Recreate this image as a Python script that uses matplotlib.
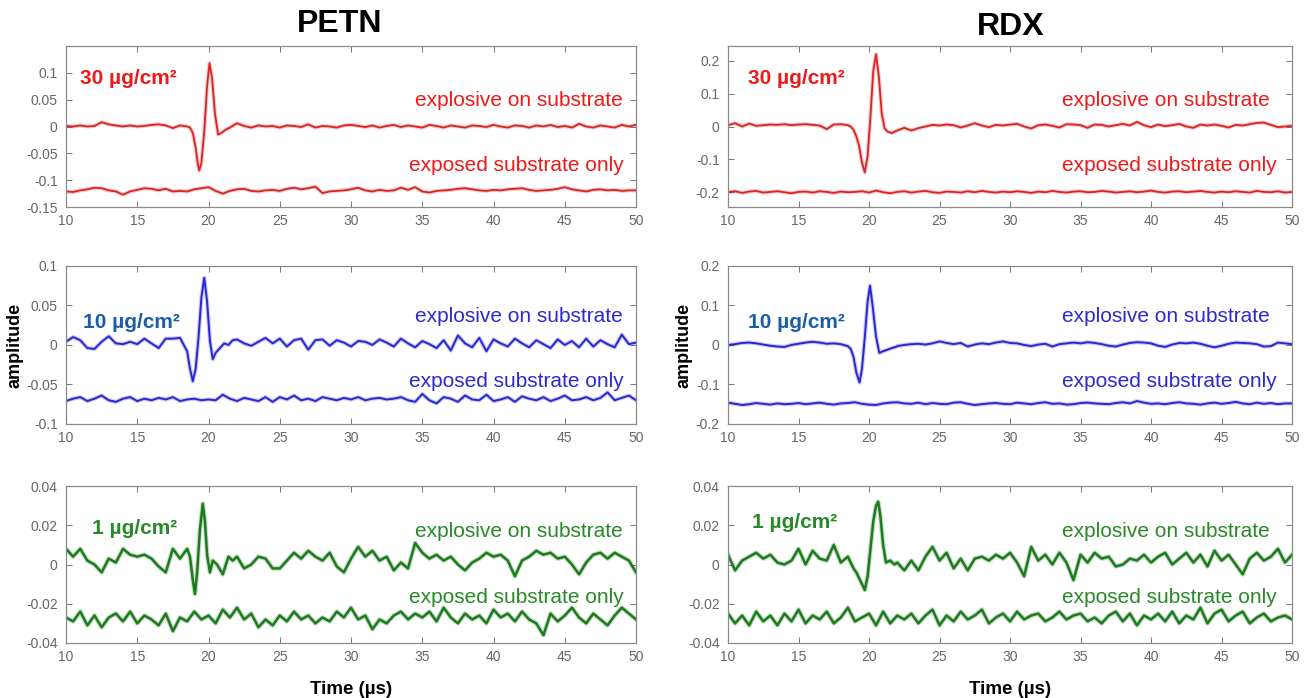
import numpy as np
import matplotlib.pyplot as plt

plt.rcParams['font.family'] = ['Liberation Sans', 'DejaVu Sans']

# Sample times (us). Substrate traces use the full grid; explosive traces
# use the grid before/after the pulse plus hand-read pulse points.
T = np.arange(10, 50.01, 0.5)
T_PRE = T[T <= 18.5]
T_POST = T[T >= 22]

# ---- PETN, 30 ug/cm2 ----
PETN30_PRE = [0.001, 0.000, 0.002, 0.000, 0.001, 0.008, 0.004, 0.002, 0.000,
              0.002, 0.000, 0.001, 0.003, 0.004, 0.002, -0.003, 0.002, 0.000]
PETN30_PULSE_T = [18.7, 18.9, 19.1, 19.25, 19.35, 19.5, 19.7, 19.9, 20.07,
                  20.25, 20.45, 20.67, 20.9, 21.2, 21.5, 21.8]
PETN30_PULSE_Y = [-0.002, -0.012, -0.040, -0.070, -0.082, -0.068, -0.010, 0.075,
                  0.118, 0.090, 0.025, -0.015, -0.012, -0.006, -0.002, 0.003]
PETN30_POST = [0.006, 0.001, -0.002, 0.002, 0.000, 0.001, -0.002, 0.002, 0.001, -0.001,
               0.004, -0.002, 0.001, 0.000, -0.002, 0.002, 0.003, 0.001, -0.001, 0.002,
               -0.002, 0.001, 0.003, -0.001, 0.002, 0.000, -0.002, 0.003, 0.001, -0.002,
               0.002, 0.000, -0.002, 0.002, 0.001, -0.001, 0.003, 0.000, -0.002, 0.002,
               0.001, -0.002, 0.002, 0.000, 0.003, -0.001, 0.001, -0.002, 0.005, 0.000,
               -0.002, 0.002, 0.000, -0.002, 0.003, 0.000, 0.003]
PETN30_SUB = [-0.121, -0.122, -0.119, -0.117, -0.114, -0.115, -0.119, -0.121, -0.127, -0.121,
              -0.118, -0.115, -0.116, -0.119, -0.116, -0.121, -0.120, -0.121, -0.117, -0.115,
              -0.113, -0.120, -0.125, -0.120, -0.117, -0.116, -0.120, -0.121, -0.119, -0.118,
              -0.120, -0.116, -0.114, -0.117, -0.115, -0.112, -0.124, -0.121, -0.120, -0.119,
              -0.117, -0.114, -0.119, -0.121, -0.118, -0.120, -0.119, -0.114, -0.118, -0.113,
              -0.121, -0.123, -0.120, -0.119, -0.118, -0.116, -0.115, -0.117, -0.119, -0.120,
              -0.118, -0.119, -0.117, -0.116, -0.115, -0.118, -0.120, -0.119, -0.118, -0.116,
              -0.113, -0.117, -0.119, -0.121, -0.118, -0.117, -0.119, -0.118, -0.120, -0.119,
              -0.119]

# ---- RDX, 30 ug/cm2 ----
RDX30_PRE = [0.004, 0.010, 0.000, 0.009, 0.002, 0.004, 0.006, 0.005, 0.007,
             0.004, 0.006, 0.007, 0.005, 0.003, -0.008, 0.006, 0.007, 0.004]
RDX30_PULSE_T = [18.7, 18.9, 19.1, 19.3, 19.5, 19.7, 19.9, 20.1, 20.3, 20.5,
                 20.7, 20.9, 21.1, 21.3, 21.6, 21.8]
RDX30_PULSE_Y = [0.000, -0.010, -0.030, -0.060, -0.110, -0.140, -0.090, 0.030,
                 0.170, 0.220, 0.150, 0.040, -0.005, -0.015, -0.020, -0.016]
RDX30_POST = [-0.012, -0.004, -0.012, -0.005, 0.000, 0.005, 0.003, 0.006, 0.004, -0.003,
              0.003, 0.010, 0.003, -0.002, 0.005, 0.003, 0.006, 0.008, 0.000, -0.006,
              0.004, 0.006, 0.002, -0.003, 0.007, 0.006, 0.004, -0.004, 0.006, 0.005,
              0.000, 0.004, 0.008, 0.003, 0.014, 0.004, -0.002, 0.006, 0.001, 0.004,
              0.008, 0.000, -0.004, 0.006, 0.003, 0.006, 0.002, -0.003, 0.005, 0.003,
              0.007, 0.011, 0.012, 0.005, -0.002, 0.000, 0.002]
RDX30_SUB = [-0.200, -0.197, -0.202, -0.198, -0.196, -0.201, -0.199, -0.197, -0.200, -0.203,
             -0.199, -0.198, -0.201, -0.197, -0.199, -0.202, -0.198, -0.200, -0.199, -0.197,
             -0.201, -0.195, -0.200, -0.203, -0.199, -0.197, -0.201, -0.198, -0.196, -0.200,
             -0.202, -0.198, -0.199, -0.201, -0.197, -0.200, -0.196, -0.199, -0.201, -0.198,
             -0.200, -0.197, -0.199, -0.202, -0.198, -0.200, -0.196, -0.199, -0.201, -0.198,
             -0.197, -0.200, -0.199, -0.196, -0.198, -0.201, -0.199, -0.197, -0.200, -0.198,
             -0.195, -0.199, -0.201, -0.198, -0.197, -0.200, -0.198, -0.196, -0.199, -0.201,
             -0.198, -0.200, -0.197, -0.199, -0.201, -0.196, -0.199, -0.200, -0.197, -0.201,
             -0.199]

# ---- PETN, 10 ug/cm2 ----
PETN10_PRE = [0.004, 0.010, 0.006, -0.004, -0.005, 0.004, 0.011, 0.002, 0.001,
              0.004, 0.001, 0.008, 0.002, -0.004, 0.008, 0.008, 0.009, -0.008]
PETN10_PULSE_T = [18.7, 18.9, 19.1, 19.3, 19.5, 19.7, 19.9, 20.1, 20.3, 20.5,
                  20.8, 21.1, 21.4, 21.7]
PETN10_PULSE_Y = [-0.030, -0.046, -0.030, 0.010, 0.060, 0.085, 0.055, 0.005,
                  -0.018, -0.010, -0.004, 0.002, 0.000, 0.006]
PETN10_POST = [0.007, 0.002, -0.001, 0.004, 0.009, 0.002, 0.008, -0.002, 0.006, 0.008,
               -0.006, 0.006, 0.007, -0.001, 0.006, 0.003, -0.002, 0.005, 0.004, 0.000,
               0.007, 0.003, -0.002, 0.008, 0.002, -0.003, 0.005, 0.001, -0.004, 0.006,
               -0.007, 0.012, 0.002, -0.003, 0.009, -0.008, 0.007, 0.002, -0.002, 0.008,
               0.002, -0.003, 0.006, 0.001, -0.004, 0.007, 0.000, 0.005, -0.003, 0.008,
               -0.002, 0.006, 0.001, -0.003, 0.013, 0.001, 0.003]
PETN10_SUB = [-0.071, -0.068, -0.066, -0.071, -0.068, -0.064, -0.070, -0.072, -0.068, -0.066,
              -0.071, -0.068, -0.070, -0.067, -0.069, -0.066, -0.071, -0.069, -0.068, -0.070,
              -0.069, -0.070, -0.063, -0.068, -0.071, -0.067, -0.069, -0.071, -0.066, -0.072,
              -0.066, -0.069, -0.064, -0.070, -0.068, -0.071, -0.066, -0.068, -0.070, -0.067,
              -0.069, -0.066, -0.070, -0.068, -0.067, -0.069, -0.068, -0.066, -0.070, -0.072,
              -0.062, -0.070, -0.074, -0.066, -0.068, -0.072, -0.064, -0.069, -0.070, -0.063,
              -0.071, -0.069, -0.066, -0.072, -0.065, -0.068, -0.070, -0.066, -0.071, -0.068,
              -0.064, -0.070, -0.069, -0.066, -0.070, -0.067, -0.060, -0.070, -0.067, -0.064,
              -0.070]

# ---- RDX, 10 ug/cm2 ----
RDX10_PRE = [0.000, 0.002, 0.005, 0.006, 0.004, 0.001, -0.002, -0.004, -0.005,
             0.000, 0.003, 0.006, 0.008, 0.006, 0.003, 0.004, 0.002, -0.003]
RDX10_PULSE_T = [18.7, 18.9, 19.1, 19.33, 19.5, 19.7, 19.9, 20.07, 20.25, 20.5,
                 20.73, 21.0, 21.3, 21.6, 21.9]
RDX10_PULSE_Y = [-0.010, -0.030, -0.070, -0.095, -0.060, 0.020, 0.110, 0.150,
                 0.100, 0.020, -0.020, -0.016, -0.012, -0.008, -0.005]
RDX10_POST = [-0.003, 0.000, 0.002, 0.003, 0.001, 0.004, 0.009, 0.005, 0.002, 0.005,
              -0.004, 0.001, 0.004, 0.002, 0.006, 0.009, 0.005, 0.004, 0.000, -0.003,
              0.001, 0.003, -0.004, 0.002, 0.004, 0.006, 0.004, 0.007, 0.005, 0.002,
              -0.002, -0.004, 0.001, 0.005, 0.007, 0.006, 0.004, -0.002, -0.005, 0.001,
              0.005, 0.004, 0.006, 0.003, -0.002, -0.006, -0.002, 0.003, 0.006, 0.005,
              0.004, 0.002, -0.004, -0.003, 0.006, 0.004, 0.002]
RDX10_SUB = [-0.146, -0.149, -0.152, -0.150, -0.147, -0.149, -0.151, -0.148, -0.150, -0.149,
             -0.147, -0.150, -0.148, -0.146, -0.149, -0.151, -0.148, -0.147, -0.145, -0.149,
             -0.151, -0.152, -0.148, -0.146, -0.145, -0.148, -0.149, -0.146, -0.150, -0.147,
             -0.149, -0.150, -0.146, -0.145, -0.149, -0.152, -0.150, -0.148, -0.147, -0.149,
             -0.150, -0.146, -0.148, -0.150, -0.147, -0.145, -0.149, -0.148, -0.151, -0.150,
             -0.147, -0.146, -0.148, -0.149, -0.150, -0.147, -0.145, -0.148, -0.142, -0.146,
             -0.149, -0.148, -0.150, -0.147, -0.145, -0.148, -0.149, -0.151, -0.148, -0.146,
             -0.149, -0.147, -0.144, -0.148, -0.150, -0.146, -0.149, -0.147, -0.150, -0.148,
             -0.148]

# ---- PETN, 1 ug/cm2 ----
PETN1_PRE = [0.008, 0.004, 0.008, 0.002, 0.000, -0.004, 0.003, 0.001, 0.008,
             0.005, 0.004, 0.005, 0.003, -0.001, -0.004, 0.008, 0.003, 0.008]
PETN1_PULSE_T = [18.7, 18.9, 19.05, 19.2, 19.4, 19.6, 19.75, 19.9, 20.1, 20.3,
                 20.6, 21.0, 21.4, 21.7]
PETN1_PULSE_Y = [0.004, -0.008, -0.015, -0.004, 0.018, 0.031, 0.022, 0.005,
                 -0.004, 0.002, 0.000, -0.005, 0.004, 0.002]
PETN1_POST = [0.004, -0.002, 0.000, 0.004, 0.003, -0.002, -0.002, 0.002, 0.006, 0.003,
              0.007, 0.004, 0.002, 0.006, -0.001, -0.004, 0.003, 0.009, 0.004, 0.007,
              0.002, 0.004, -0.003, 0.001, -0.002, 0.011, 0.006, 0.003, 0.005, 0.002,
              0.004, 0.000, -0.003, 0.001, 0.003, 0.006, 0.004, 0.005, 0.002, -0.006,
              0.002, 0.004, 0.007, 0.005, 0.006, 0.003, 0.004, 0.000, -0.005, 0.001,
              0.005, 0.006, 0.003, 0.006, 0.004, 0.002, -0.004]
PETN1_SUB = [-0.027, -0.029, -0.024, -0.031, -0.026, -0.032, -0.027, -0.025, -0.029, -0.024,
             -0.030, -0.026, -0.028, -0.031, -0.025, -0.034, -0.027, -0.029, -0.024, -0.028,
             -0.026, -0.030, -0.023, -0.027, -0.022, -0.028, -0.025, -0.032, -0.028, -0.031,
             -0.026, -0.029, -0.024, -0.028, -0.026, -0.030, -0.027, -0.029, -0.024, -0.027,
             -0.022, -0.028, -0.026, -0.033, -0.028, -0.030, -0.026, -0.024, -0.028, -0.025,
             -0.027, -0.024, -0.029, -0.022, -0.027, -0.030, -0.025, -0.028, -0.026, -0.030,
             -0.023, -0.027, -0.025, -0.029, -0.024, -0.028, -0.030, -0.036, -0.025, -0.029,
             -0.026, -0.022, -0.027, -0.030, -0.025, -0.028, -0.031, -0.026, -0.022, -0.025,
             -0.028]

# ---- RDX, 1 ug/cm2 ----
RDX1_PRE = [0.005, -0.003, 0.002, 0.004, 0.006, 0.003, 0.005, 0.001, 0.000,
            0.002, 0.008, 0.000, 0.007, 0.003, 0.002, 0.010, 0.001, 0.004]
RDX1_PULSE_T = [18.7, 18.9, 19.1, 19.3, 19.5, 19.7, 19.9, 20.1, 20.3, 20.5,
                20.65, 20.8, 21.0, 21.2, 21.5, 21.8]
RDX1_PULSE_Y = [0.001, -0.002, -0.004, -0.007, -0.010, -0.013, -0.006, 0.008,
                0.022, 0.030, 0.032, 0.025, 0.010, 0.001, 0.002, 0.000]
RDX1_POST = [0.001, -0.003, 0.002, -0.003, 0.004, 0.009, 0.002, 0.006, -0.002, 0.003,
             -0.003, 0.003, 0.004, 0.002, 0.005, 0.003, 0.006, 0.001, -0.006, 0.009,
             0.002, 0.005, 0.000, 0.006, 0.001, -0.008, 0.005, 0.001, 0.006, 0.003,
             0.004, -0.001, 0.000, 0.003, 0.002, 0.005, 0.001, 0.004, 0.006, 0.000,
             0.003, 0.006, 0.001, 0.005, -0.001, 0.007, 0.002, 0.005, 0.000, -0.005,
             0.003, 0.006, 0.002, 0.004, 0.008, 0.001, 0.005]
RDX1_SUB = [-0.025, -0.030, -0.026, -0.031, -0.024, -0.029, -0.026, -0.031, -0.025, -0.029,
            -0.023, -0.030, -0.026, -0.028, -0.024, -0.030, -0.027, -0.022, -0.029, -0.027,
            -0.025, -0.031, -0.024, -0.030, -0.026, -0.028, -0.025, -0.030, -0.026, -0.023,
            -0.031, -0.026, -0.029, -0.024, -0.028, -0.026, -0.023, -0.030, -0.027, -0.025,
            -0.029, -0.024, -0.028, -0.026, -0.025, -0.029, -0.027, -0.024, -0.028, -0.026,
            -0.025, -0.029, -0.027, -0.030, -0.026, -0.024, -0.029, -0.025, -0.031, -0.026,
            -0.028, -0.025, -0.029, -0.024, -0.030, -0.026, -0.028, -0.022, -0.030, -0.025,
            -0.023, -0.029, -0.026, -0.024, -0.030, -0.027, -0.025, -0.029, -0.027, -0.026,
            -0.028]

DOSES = ['30 µg/cm²', '10 µg/cm²', '1 µg/cm²']
XTICKS = [10, 15, 20, 25, 30, 35, 40, 45, 50]
PETN_YLIM = [(-0.15, 0.15), (-0.1, 0.1), (-0.04, 0.04)]
PETN_YTICKS = [[-0.15, -0.1, -0.05, 0, 0.05, 0.1],
               [-0.1, -0.05, 0, 0.05, 0.1],
               [-0.04, -0.02, 0, 0.02, 0.04]]
RDX_YLIM = [(-0.245, 0.245), (-0.2, 0.2), (-0.04, 0.04)]
RDX_YTICKS = [[-0.2, -0.1, 0, 0.1, 0.2],
              [-0.2, -0.1, 0, 0.1, 0.2],
              [-0.04, -0.02, 0, 0.02, 0.04]]


def explosive_trace(pre, pulse_t, pulse_y, post):
    t = np.concatenate([T_PRE, pulse_t, T_POST])
    y = np.concatenate([pre, pulse_y, post])
    return t, y


petn = [
    (explosive_trace(PETN30_PRE, PETN30_PULSE_T, PETN30_PULSE_Y, PETN30_POST), PETN30_SUB),
    (explosive_trace(PETN10_PRE, PETN10_PULSE_T, PETN10_PULSE_Y, PETN10_POST), PETN10_SUB),
    (explosive_trace(PETN1_PRE, PETN1_PULSE_T, PETN1_PULSE_Y, PETN1_POST), PETN1_SUB),
]
rdx = [
    (explosive_trace(RDX30_PRE, RDX30_PULSE_T, RDX30_PULSE_Y, RDX30_POST), RDX30_SUB),
    (explosive_trace(RDX10_PRE, RDX10_PULSE_T, RDX10_PULSE_Y, RDX10_POST), RDX10_SUB),
    (explosive_trace(RDX1_PRE, RDX1_PULSE_T, RDX1_PULSE_Y, RDX1_POST), RDX1_SUB),
]

# per row: trace colour, text colour, dose-label colour, line width
row_style = [
    ('#d82424', '#f01818', '#f01818', 1.3),
    ('#2828d0', '#2a2ad2', '#1c5ea6', 1.4),
    ('#1d7a1d', '#268a26', '#268a26', 1.8),
]

fig = plt.figure(figsize=(13.12, 6.98), dpi=100)

# axes rectangles [left, bottom, width, height] for each column and row
col_x = [(0.0503, 0.4345), (0.5549, 0.4299)]
row_y = [(0.7034, 0.2307), (0.3926, 0.2264), (0.0788, 0.2249)]

# text anchors in axes fractions: dose label (x, y), explosive (x, y), substrate (x, y)
petn_text = [((0.025, 0.80), (0.977, 0.66), (0.979, 0.255)),
             ((0.030, 0.645), (0.977, 0.68), (0.979, 0.266)),
             ((0.045, 0.73), (0.977, 0.71), (0.979, 0.29))]
rdx_text = [((0.035, 0.80), (0.961, 0.66), (0.972, 0.255)),
            ((0.035, 0.645), (0.961, 0.68), (0.972, 0.266)),
            ((0.043, 0.77), (0.961, 0.71), (0.972, 0.29))]

columns = [(petn, PETN_YLIM, PETN_YTICKS, petn_text),
           (rdx, RDX_YLIM, RDX_YTICKS, rdx_text)]

for c, (traces, ylims, yticks, texts) in enumerate(columns):
    for r in range(3):
        (t_exp, y_exp), y_sub = traces[r]
        line_c, text_c, dose_c, lw = row_style[r]
        ax = fig.add_axes([col_x[c][0], row_y[r][0], col_x[c][1], row_y[r][1]])

        for tt, yy in ((t_exp, y_exp), (T, y_sub)):
            ax.plot(tt, yy, color=line_c, lw=lw + 1.6, alpha=0.25, solid_joinstyle='round')
            ax.plot(tt, yy, color=line_c, lw=lw, solid_joinstyle='round')

        ax.set_xlim(10, 50)
        ax.set_ylim(*ylims[r])
        ax.set_xticks(XTICKS)
        ax.set_yticks(yticks[r])
        ax.set_yticklabels([f'{v:g}' for v in yticks[r]])
        ax.tick_params(direction='in', length=4, width=0.7, top=True, right=True,
                       labelsize=10, labelcolor='#666666', color='#777777')
        ax.tick_params(axis='x', pad=5)
        ax.tick_params(axis='y', pad=6)
        for sp in ax.spines.values():
            sp.set_color('#8a8a8a')
            sp.set_linewidth(0.9)

        (dx, dy), (ex, ey), (sx, sy) = texts[r]
        ax.text(dx, dy, DOSES[r], transform=ax.transAxes, color=dose_c,
                fontsize=15, fontweight='bold', ha='left', va='center')
        ax.text(ex, ey, 'explosive on substrate', transform=ax.transAxes,
                color=text_c, fontsize=15, ha='right', va='center')
        ax.text(sx, sy, 'exposed substrate only', transform=ax.transAxes,
                color=text_c, fontsize=15, ha='right', va='center')

        if r == 1:
            ax.set_ylabel('amplitude', fontsize=13, fontweight='bold', labelpad=2)
        if r == 2:
            ax.set_xlabel('Time (µs)', fontsize=13.5, fontweight='bold', labelpad=12)

fig.text(0.259, 0.966, 'PETN', fontsize=23, fontweight='bold', ha='center', va='center')
fig.text(0.770, 0.961, 'RDX', fontsize=23, fontweight='bold', ha='center', va='center')

fig.savefig('out.png', dpi=100)
